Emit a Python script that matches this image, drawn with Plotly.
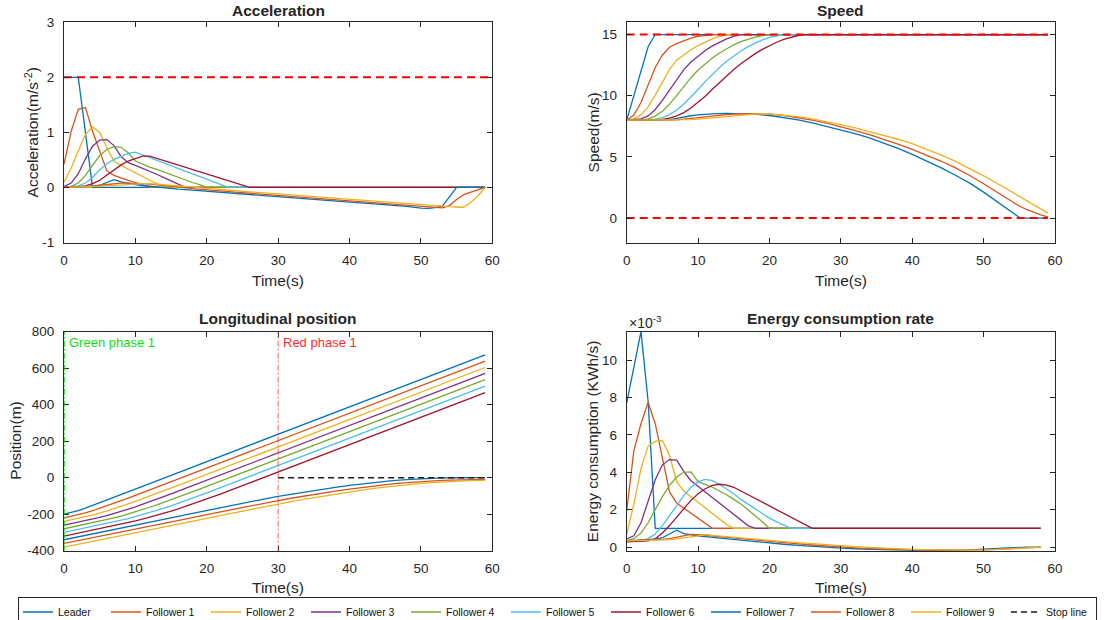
import plotly.graph_objects as go

# ---------------- time bases (s) ----------------
# first platoon (Leader .. Follower 6): 1 s samples through the transient, then the last sample
T1 = [0, 1, 2, 3, 4, 5, 6, 7, 8, 9, 10, 11, 12, 13, 14, 15, 16, 17, 18, 19, 20,
      21, 22, 23, 24, 25, 26, 59]
T1E = [0, 1, 2, 3, 4, 5, 6, 7, 8, 9, 10, 11, 12, 13, 14, 15, 16, 17, 18, 19, 20,
       21, 22, 23, 24, 25, 26, 58]
# second platoon (Follower 7 .. Follower 9)
T2 = [0, 2, 4, 5, 6, 7, 8, 9, 10, 11, 12, 14, 16, 18, 20, 22, 24, 26, 28, 30, 32,
      34, 36, 38, 40, 42, 44, 46, 48, 50, 51, 52, 53, 54, 55, 56, 57, 58, 59]
T2E = [0, 2, 4, 5, 6, 7, 8, 9, 10, 11, 12, 14, 16, 18, 20, 22, 24, 26, 28, 30, 32,
       34, 36, 38, 40, 42, 44, 46, 48, 50, 51, 52, 53, 54, 55, 56, 57, 58]

NAMES = ["Leader", "Follower 1", "Follower 2", "Follower 3", "Follower 4",
         "Follower 5", "Follower 6", "Follower 7", "Follower 8", "Follower 9"]
COLORS = ["#0072BD", "#D95319", "#EDB120", "#7E2F8E", "#77AC30",
          "#4DBEEE", "#A2142F", "#0072BD", "#D95319", "#EDB120"]

# ---------------- acceleration (m/s^2) ----------------
ACC_L = [2, 2, 2, 1, 0, 0, 0, 0, 0, 0, 0, 0, 0, 0, 0, 0, 0, 0, 0, 0, 0, 0, 0, 0, 0, 0, 0, 0]
ACC_F1 = [0.42, 1.02, 1.42, 1.45, 1.02, 0.64, 0.30, 0.22, 0.17, 0.13, 0.09, 0.04, 0.0,
          0, 0, 0, 0, 0, 0, 0, 0, 0, 0, 0, 0, 0, 0, 0]
ACC_F2 = [0.10, 0.35, 0.66, 0.96, 1.10, 1.00, 0.72, 0.48, 0.40, 0.33, 0.27, 0.20, 0.13,
          0.07, 0.01, 0.0, 0, 0, 0, 0, 0, 0, 0, 0, 0, 0, 0, 0]
ACC_F3 = [0.02, 0.08, 0.25, 0.52, 0.75, 0.86, 0.87, 0.76, 0.56, 0.45, 0.40, 0.35, 0.30,
          0.24, 0.18, 0.12, 0.06, 0.0, 0, 0, 0, 0, 0, 0, 0, 0, 0, 0]
ACC_F4 = [0.01, 0.02, 0.08, 0.22, 0.40, 0.58, 0.69, 0.74, 0.73, 0.63, 0.48, 0.42, 0.37,
          0.33, 0.28, 0.23, 0.19, 0.14, 0.09, 0.05, 0.0, 0, 0, 0, 0, 0, 0, 0]
ACC_F5 = [0.0, 0.01, 0.03, 0.08, 0.18, 0.32, 0.43, 0.51, 0.57, 0.62, 0.64, 0.59, 0.54,
          0.49, 0.44, 0.39, 0.34, 0.29, 0.24, 0.20, 0.15, 0.10, 0.05, 0.0, 0, 0, 0, 0]
ACC_F6 = [0.0, 0.0, 0.01, 0.03, 0.07, 0.13, 0.22, 0.32, 0.41, 0.48, 0.53, 0.57, 0.57,
          0.53, 0.49, 0.45, 0.41, 0.37, 0.33, 0.29, 0.25, 0.20, 0.16, 0.12, 0.08, 0.04, 0.0, 0]
ACC_F7 = [0, 0, 0.01, 0.04, 0.09, 0.14, 0.10, 0.07, 0.05, 0.035, 0.02,
          -0.01, -0.03, -0.05, -0.07, -0.085, -0.10, -0.12, -0.14, -0.16, -0.18,
          -0.20, -0.22, -0.24, -0.26, -0.28, -0.30, -0.32, -0.345, -0.375,
          -0.38, -0.365, -0.34, -0.17, 0, 0, 0, 0, 0]
ACC_F8 = [0, 0.01, 0.03, 0.04, 0.055, 0.07, 0.08, 0.08, 0.08, 0.07, 0.06,
          0.04, 0.01, -0.02, -0.045, -0.065, -0.085, -0.105, -0.125, -0.145, -0.165,
          -0.185, -0.205, -0.225, -0.245, -0.265, -0.285, -0.305, -0.325, -0.345,
          -0.355, -0.365, -0.37, -0.33, -0.22, -0.13, -0.09, -0.05, 0]
ACC_F9 = [0, 0.005, 0.015, 0.02, 0.03, 0.04, 0.05, 0.06, 0.065, 0.07, 0.07,
          0.055, 0.03, 0.005, -0.02, -0.04, -0.06, -0.08, -0.10, -0.12, -0.14,
          -0.16, -0.18, -0.20, -0.22, -0.24, -0.26, -0.28, -0.30, -0.32,
          -0.325, -0.335, -0.34, -0.35, -0.355, -0.36, -0.27, -0.15, 0]

# ---------------- speed (m/s) ----------------
SPD_L = [8, 10, 12, 14, 15, 15, 15, 15, 15, 15, 15, 15, 15, 15, 15, 15, 15, 15, 15, 15,
         15, 15, 15, 15, 15, 15, 15, 15]
SPD_F1 = [8.0, 8.42, 9.44, 10.86, 12.31, 13.33, 13.96, 14.26, 14.51, 14.71, 14.86, 14.96,
          15.0, 15, 15, 15, 15, 15, 15, 15, 15, 15, 15, 15, 15, 15, 15, 15]
SPD_F2 = [8.0, 8.10, 8.43, 9.09, 10.05, 11.15, 12.15, 12.90, 13.35, 13.75, 14.10, 14.40,
          14.65, 14.84, 14.96, 15.0, 15, 15, 15, 15, 15, 15, 15, 15, 15, 15, 15, 15]
SPD_F3 = [8.0, 8.02, 8.10, 8.35, 8.87, 9.62, 10.48, 11.35, 12.13, 12.75, 13.25, 13.69,
          14.07, 14.39, 14.65, 14.85, 14.99, 15.0, 15, 15, 15, 15, 15, 15, 15, 15, 15, 15]
SPD_F4 = [8.0, 8.01, 8.03, 8.11, 8.33, 8.73, 9.31, 10.0, 10.74, 11.47, 12.10, 12.62,
          13.08, 13.49, 13.85, 14.16, 14.42, 14.63, 14.79, 14.91, 15.0, 15, 15, 15, 15, 15,
          15, 15]
SPD_F5 = [8.0, 8.0, 8.01, 8.03, 8.08, 8.20, 8.45, 8.83, 9.32, 9.89, 10.51, 11.15, 11.76,
          12.31, 12.81, 13.26, 13.66, 14.01, 14.31, 14.56, 14.76, 14.91, 15.0, 15.0, 15, 15,
          15, 15]
SPD_F6 = [8.0, 8.0, 8.0, 8.0, 8.02, 8.07, 8.17, 8.35, 8.62, 8.99, 9.44, 9.96, 10.52,
          11.09, 11.64, 12.15, 12.62, 13.05, 13.44, 13.79, 14.10, 14.37, 14.60, 14.78,
          14.92, 15.0, 15.0, 15.0]
SPD_F7 = [8, 8, 8, 8.01, 8.05, 8.14, 8.26, 8.36, 8.43, 8.48, 8.52,
          8.55, 8.54, 8.49, 8.38, 8.22, 8.02, 7.77, 7.50, 7.22, 6.90,
          6.55, 6.15, 5.70, 5.20, 4.68, 4.12, 3.52, 2.87, 2.12,
          1.72, 1.32, 0.92, 0.45, 0.05, 0, 0, 0, 0]
SPD_F8 = [8, 8, 8, 8.0, 8.01, 8.03, 8.08, 8.14, 8.21, 8.28, 8.35,
          8.46, 8.53, 8.54, 8.49, 8.38, 8.22, 8.00, 7.75, 7.47, 7.15,
          6.82, 6.45, 6.05, 5.62, 5.15, 4.66, 4.12, 3.50, 2.80,
          2.43, 2.06, 1.69, 1.32, 0.98, 0.70, 0.45, 0.25, 0.10]
SPD_F9 = [8, 8, 8, 8.0, 8.0, 8.01, 8.02, 8.05, 8.09, 8.14, 8.20,
          8.33, 8.44, 8.50, 8.49, 8.42, 8.29, 8.11, 7.89, 7.64, 7.37,
          7.08, 6.77, 6.44, 6.09, 5.65, 5.17, 4.65, 4.08, 3.45,
          3.13, 2.80, 2.47, 2.13, 1.79, 1.45, 1.10, 0.75, 0.40]

# ---------------- longitudinal position (m) ----------------
POS_L = [-200, -191, -180, -167, -152.5, -137.5, -122.5, -107.5, -92.5, -77.5, -62.5,
         -47.5, -32.5, -17.5, -2.5, 12.5, 27.5, 42.5, 57.5, 72.5, 87.5, 102.5, 117.5,
         132.5, 147.5, 162.5, 177.5, 672.5]
POS_F1 = [-220, -211.79, -202.86, -192.71, -181.13, -168.31, -154.66, -140.55, -126.17,
          -111.56, -96.77, -81.86, -66.88, -51.88, -36.88, -21.88, -6.88, 8.12, 23.12,
          38.12, 53.12, 68.12, 83.12, 98.12, 113.12, 128.12, 143.12, 638.12]
POS_F2 = [-240, -231.95, -223.69, -214.93, -205.36, -194.76, -183.11, -170.58, -157.46,
          -143.91, -129.98, -115.73, -101.21, -86.46, -71.56, -56.58, -41.58, -26.58,
          -11.58, 3.42, 18.42, 33.42, 48.42, 63.42, 78.42, 93.42, 108.42, 603.42]
POS_F3 = [-260, -251.99, -243.93, -235.71, -227.10, -217.85, -207.80, -196.89, -185.15,
          -172.71, -159.71, -146.24, -132.36, -118.13, -103.61, -88.86, -73.94, -58.95,
          -43.95, -28.95, -13.95, 1.05, 16.05, 31.05, 46.05, 61.05, 76.05, 571.05]
POS_F4 = [-280, -272.0, -263.98, -255.91, -247.69, -239.16, -230.14, -220.48, -210.11,
          -199.01, -187.22, -174.86, -162.01, -148.73, -135.06, -121.05, -106.76, -92.24,
          -77.53, -62.68, -47.73, -32.73, -17.73, -2.73, 12.27, 27.27, 42.27, 537.27]
POS_F5 = [-300, -292.0, -284.0, -275.98, -267.92, -259.78, -251.46, -242.82, -233.74,
          -224.14, -213.94, -203.11, -191.65, -179.62, -167.06, -154.02, -140.56, -126.73,
          -112.57, -98.13, -83.47, -68.64, -53.68, -38.68, -23.68, -8.68, 6.32, 501.32]
POS_F6 = [-320, -312, -304, -296, -287.99, -279.95, -271.83, -263.57, -255.08, -246.28,
          -237.06, -227.36, -217.12, -206.32, -194.95, -183.06, -170.67, -157.84, -144.59,
          -130.98, -117.03, -102.80, -88.31, -73.62, -58.77, -43.81, -28.81, 466.19]
POS_F7 = [-340, -324.5, -309.0, -301.3, -293.5, -285.6, -277.7, -269.6, -261.5, -253.3,
          -245.1, -228.6, -212.0, -195.5, -179.2, -163.1, -147.4, -132.1, -117.3, -103.0,
          -89.4, -76.4, -64.1, -52.6, -42.0, -32.5, -23.9, -16.5, -10.4, -5.5,
          -3.6, -2.1, -1.0, -0.4, -0.1, 0, 0, 0, 0]
POS_F8 = [-360, -344.7, -329.4, -321.8, -314.1, -306.4, -298.7, -291.0, -283.2, -275.3,
          -267.3, -251.3, -235.0, -218.7, -202.4, -186.3, -170.5, -155.0, -139.9, -125.3,
          -111.4, -98.0, -85.3, -73.4, -62.2, -51.9, -42.6, -34.2, -26.9, -20.9,
          -18.4, -16.2, -14.4, -13.0, -11.9, -11.1, -10.6, -10.2, -10.0]
POS_F9 = [-380, -364.6, -349.2, -341.5, -333.9, -326.2, -318.5, -310.8, -303.0, -295.2,
          -287.3, -271.4, -255.3, -239.0, -222.7, -206.5, -190.4, -174.6, -159.2, -144.3,
          -129.9, -116.0, -102.7, -90.0, -77.9, -66.7, -56.4, -47.1, -38.9, -31.8,
          -28.7, -25.8, -23.3, -21.1, -19.3, -17.7, -16.5, -15.6, -15.0]

# ---------------- energy consumption rate (x 1e-3 KWh/s) ----------------
ENE_L = [7.70, 9.60, 11.53, 7.80, 1.0, 1.0, 1.0, 1.0, 1.0, 1.0, 1.0, 1.0, 1.0, 1.0, 1.0,
         1.0, 1.0, 1.0, 1.0, 1.0, 1.0, 1.0, 1.0, 1.0, 1.0, 1.0, 1.0, 1.0]
ENE_F1 = [1.94, 5.15, 6.60, 7.75, 6.60, 4.75, 2.95, 2.35, 2.08, 1.81, 1.54, 1.27, 1.0,
          1.0, 1.0, 1.0, 1.0, 1.0, 1.0, 1.0, 1.0, 1.0, 1.0, 1.0, 1.0, 1.0, 1.0, 1.0]
ENE_F2 = [0.70, 2.30, 4.20, 5.40, 5.65, 5.70, 4.90, 3.50, 3.00, 2.70, 2.40, 2.10, 1.80,
          1.50, 1.20, 1.0, 1.0, 1.0, 1.0, 1.0, 1.0, 1.0, 1.0, 1.0, 1.0, 1.0, 1.0, 1.0]
ENE_F3 = [0.43, 0.60, 1.30, 2.40, 3.60, 4.40, 4.68, 4.65, 4.05, 3.55, 3.25, 2.95, 2.65,
          2.35, 2.05, 1.75, 1.45, 1.15, 1.0, 1.0, 1.0, 1.0, 1.0, 1.0, 1.0, 1.0, 1.0, 1.0]
ENE_F4 = [0.35, 0.45, 0.75, 1.30, 2.00, 2.70, 3.30, 3.75, 4.00, 4.02, 3.50, 3.35, 3.20,
          3.00, 2.80, 2.55, 2.30, 2.00, 1.70, 1.35, 1.0, 1.0, 1.0, 1.0, 1.0, 1.0, 1.0, 1.0]
ENE_F5 = [0.30, 0.32, 0.36, 0.45, 0.70, 1.15, 1.70, 2.25, 2.75, 3.20, 3.50, 3.62, 3.55,
          3.35, 3.10, 2.85, 2.55, 2.30, 2.05, 1.80, 1.55, 1.35, 1.17, 1.0, 1.0, 1.0, 1.0,
          1.0]
ENE_F6 = [0.28, 0.30, 0.30, 0.33, 0.45, 0.75, 1.15, 1.60, 2.05, 2.50, 2.85, 3.12, 3.30,
          3.36, 3.32, 3.20, 3.00, 2.80, 2.60, 2.40, 2.20, 1.98, 1.77, 1.56, 1.36, 1.18,
          1.0, 1.0]
ENE_F7 = [0.33, 0.36, 0.42, 0.50, 0.68, 0.90, 0.72, 0.65, 0.60, 0.56, 0.52,
          0.45, 0.38, 0.30, 0.22, 0.15, 0.09, 0.03, -0.02, -0.06, -0.09,
          -0.12, -0.14, -0.16, -0.17, -0.18, -0.18, -0.17, -0.15, -0.11,
          -0.09, -0.07, -0.05, -0.02, 0.0, 0.0, 0.0, 0.0]
ENE_F8 = [0.33, 0.35, 0.38, 0.41, 0.45, 0.52, 0.60, 0.68, 0.66, 0.63, 0.60,
          0.52, 0.45, 0.38, 0.30, 0.23, 0.17, 0.11, 0.05, 0.0, -0.04,
          -0.08, -0.11, -0.14, -0.16, -0.17, -0.18, -0.18, -0.17, -0.15,
          -0.14, -0.12, -0.10, -0.07, -0.05, -0.03, -0.01, 0.0]
ENE_F9 = [0.33, 0.34, 0.36, 0.38, 0.40, 0.44, 0.48, 0.54, 0.60, 0.66, 0.63,
          0.57, 0.50, 0.43, 0.36, 0.29, 0.23, 0.17, 0.11, 0.06, 0.02,
          -0.02, -0.06, -0.09, -0.12, -0.14, -0.16, -0.17, -0.17, -0.16,
          -0.15, -0.13, -0.11, -0.09, -0.07, -0.05, -0.02, 0.0]

# ---------------- constraints and signal timing ----------------
ACC_MAX = 2
SPEED_MAX = 15
SPEED_MIN = 0
STOP_LINE = 0
GREEN_START = 0
RED_START = 30
T_END = 59

# tick labels (ASCII hyphen for negatives)
ACC_TICKS = [-1, 0, 1, 2, 3]
SPD_TICKS = [0, 5, 10, 15]
POS_TICKS = [-400, -200, 0, 200, 400, 600, 800]
ENE_TICKS = [0, 2, 4, 6, 8, 10]
TIME_TICKS = [0, 10, 20, 30, 40, 50, 60]

ACC = [ACC_L, ACC_F1, ACC_F2, ACC_F3, ACC_F4, ACC_F5, ACC_F6, ACC_F7, ACC_F8, ACC_F9]
SPD = [SPD_L, SPD_F1, SPD_F2, SPD_F3, SPD_F4, SPD_F5, SPD_F6, SPD_F7, SPD_F8, SPD_F9]
POS = [POS_L, POS_F1, POS_F2, POS_F3, POS_F4, POS_F5, POS_F6, POS_F7, POS_F8, POS_F9]
ENE = [ENE_L, ENE_F1, ENE_F2, ENE_F3, ENE_F4, ENE_F5, ENE_F6, ENE_F7, ENE_F8, ENE_F9]

FONT = "Liberation Sans, Arial, Helvetica, sans-serif"
INK = "#262626"
W, H = 1115, 620

fig = go.Figure()

panels = [("x", "y", ACC, T1, T2), ("x2", "y2", SPD, T1, T2),
          ("x3", "y3", POS, T1, T2), ("x4", "y4", ENE, T1E, T2E)]
for p, (xa, ya, series, t_first, t_second) in enumerate(panels):
    for i, ys in enumerate(series):
        fig.add_trace(go.Scatter(
            x=t_first if i < 7 else t_second, y=ys, xaxis=xa, yaxis=ya,
            mode="lines", name=NAMES[i], legendgroup=NAMES[i],
            showlegend=(p == 0), hoverinfo="skip",
            legendwidth=(43 if i == 0 else 55),
            line=dict(color=COLORS[i], width=1.3)))

# limit lines
LIM = dict(color="#FF0000", width=2, dash="8px,5px")
fig.add_trace(go.Scatter(x=[0, 60], y=[ACC_MAX, ACC_MAX], xaxis="x", yaxis="y",
                         mode="lines", line=LIM, showlegend=False, hoverinfo="skip"))
for v in (SPEED_MAX, SPEED_MIN):
    fig.add_trace(go.Scatter(x=[0, T_END], y=[v, v], xaxis="x2", yaxis="y2",
                             mode="lines", line=LIM, showlegend=False, hoverinfo="skip"))

# stop line
fig.add_trace(go.Scatter(x=[RED_START, T_END], y=[STOP_LINE, STOP_LINE], xaxis="x3",
                         yaxis="y3", mode="lines", name="Stop line", hoverinfo="skip",
                         legendwidth=45,
                         line=dict(color="#1a1a1a", width=1.5, dash="6px,4px")))

# signal phase markers
fig.add_shape(type="line", xref="x3", yref="y3", x0=GREEN_START, x1=GREEN_START,
              y0=-400, y1=800, layer="above",
              line=dict(color="#00dd00", width=1.5, dash="6px,2px,2px,2px"))
fig.add_shape(type="line", xref="x3", yref="y3", x0=RED_START, x1=RED_START,
              y0=-400, y1=800, layer="above",
              line=dict(color="rgba(255,40,40,0.75)", width=1, dash="6px,2px,2px,2px"))

# ---------------- axes ----------------
LX = [64 / W, 492.3 / W]
RX = [626.7 / W, 1055 / W]
TY = [1 - 242.5 / H, 1 - 22.3 / H]
BY = [1 - 550.7 / H, 1 - 331.6 / H]


def labels(vals):
    return [str(v) for v in vals]


def ax(domain, rng, anchor, ticks_at, standoff, **kw):
    d = dict(domain=domain, range=rng, anchor=anchor, showline=True, linecolor=INK,
             linewidth=1, mirror="ticks", ticks="inside", ticklen=5, tickcolor=INK,
             tickwidth=1, showgrid=False, zeroline=False, fixedrange=True,
             automargin=False, tickvals=ticks_at, ticktext=labels(ticks_at),
             ticklabelstandoff=standoff,
             tickfont=dict(family=FONT, size=13.5, color=INK))
    d.update(kw)
    return d


fig.update_layout(
    xaxis=ax(LX, [0, 60], "y", TIME_TICKS, 5),
    yaxis=ax(TY, [-1, 3], "x", ACC_TICKS, 6),
    xaxis2=ax(RX, [0, 60], "y2", TIME_TICKS, 5),
    yaxis2=ax(TY, [-2, 16], "x2", SPD_TICKS, 6),
    xaxis3=ax(LX, [0, 60], "y3", TIME_TICKS, 5),
    yaxis3=ax(BY, [-400, 800], "x3", POS_TICKS, 6),
    xaxis4=ax(RX, [0, 60], "y4", TIME_TICKS, 5),
    yaxis4=ax(BY, [-0.195, 11.53], "x4", ENE_TICKS, 6),
)

# ---------------- titles and labels ----------------
ann = []


def text(s, x, y, size=15.5, bold=False, angle=0, color=INK, xanchor="center",
         yanchor="middle", xref="paper", yref="paper", xshift=0, yshift=0):
    ann.append(dict(text="<b>%s</b>" % s if bold else s, x=x, y=y, xref=xref, yref=yref,
                    showarrow=False, textangle=angle, xanchor=xanchor, yanchor=yanchor,
                    xshift=xshift, yshift=yshift,
                    font=dict(family=FONT, size=size, color=color)))


def mid(d):
    return (d[0] + d[1]) / 2


text("Acceleration", mid(LX), 1 - 10.5 / H, bold=True)
text("Speed", mid(RX), 1 - 10.5 / H, bold=True)
text("Longitudinal position", mid(LX), 1 - 318 / H, bold=True)
text("Energy consumption rate", mid(RX), 1 - 318 / H, bold=True)

for d, yy in ((LX, 280.7), (RX, 280.7), (LX, 587.3), (RX, 587.3)):
    text("Time(s)", mid(d), 1 - yy / H)

text("Acceleration(m/s<sup>-2</sup>)", 32 / W, mid(TY), angle=-90)
text("Speed(m/s)", 593 / W, mid(TY), angle=-90)
text("Position(m)", 15.5 / W, mid(BY), angle=-90)
text("Energy consumption (KWh/s)", 592 / W, mid(BY), angle=-90)
text("×10<sup>-3</sup>", RX[0], BY[1], size=14, xanchor="left", yanchor="bottom",
     yshift=-1)

text("Green phase 1", GREEN_START, 800, size=13, color="#11dd11", xanchor="left",
     yanchor="top", xref="x3", yref="y3", xshift=3, yshift=-1)
text("Red phase 1", RED_START, 800, size=13, color="#ff2a2a", xanchor="left",
     yanchor="top", xref="x3", yref="y3", xshift=3, yshift=-1)

fig.update_layout(
    annotations=ann,
    width=W, height=H, margin=dict(l=0, r=0, t=0, b=0, autoexpand=False),
    paper_bgcolor="white", plot_bgcolor="white",
    showlegend=True,
    legend=dict(orientation="h", x=0.5, xanchor="center", y=1 - 596.5 / H,
                yanchor="top", bgcolor="white", bordercolor=INK, borderwidth=1,
                font=dict(family=FONT, size=10.5, color="#111"),
                itemwidth=30, entrywidthmode="pixels", tracegroupgap=0),
)

fig.write_html("out.html")
